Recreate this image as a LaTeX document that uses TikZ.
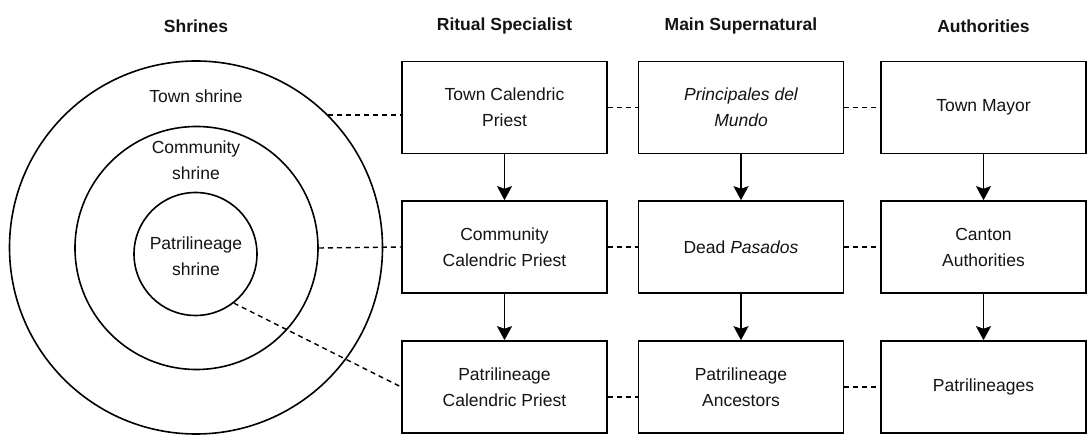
\documentclass[tikz,border=0pt]{standalone}
\usepackage{fontspec}
\setmainfont{Liberation Sans}
\usetikzlibrary{arrows.meta,calc}
\begin{document}
\begin{tikzpicture}[x=1pt,y=-1pt,
  every node/.style={font=\fontsize{17.5}{26}\selectfont, text=black!92},
  hdr/.style={font=\fontsize{17.5}{26}\selectfont\bfseries},
  box/.style={draw, line width=1.6pt, minimum width=205pt, minimum height=92pt, inner sep=0pt, align=center},
  ring/.style={draw, line width=1.6pt, inner sep=0pt, circle},
  lbl/.style={align=center, inner sep=0pt},
  dline/.style={line width=1.4pt, dash pattern=on 5pt off 4pt},
  arr/.style={line width=1.6pt, -{Stealth[length=14pt,width=15pt,inset=2.5pt]}}
]
\useasboundingbox (0,0) rectangle (1089,435);
\fill[white] (0,0) rectangle (1089,435);

% headers
\node[hdr] (h0) at (196,26) {Shrines};
\node[hdr] (h1) at (504.5,26) {Ritual Specialist};
\node[hdr] (h2) at (741,26) {Main Supernatural};
\node[hdr] (h3) at (983.5,26) {Authorities};

% shrines
\node[ring, minimum size=373pt] (town) at (196,247.5) {};
\node[ring, minimum size=243pt] (comm) at (196.5,248) {};
\node[ring, minimum size=123pt] (patr) at (195.5,254) {};
\node[lbl] (townl) at (196,96) {Town shrine};
\node[lbl] (comml) at (196,160) {Community\\shrine};
\node[lbl] (patrl) at (196,256) {Patrilineage\\shrine};

% boxes
\node[box] (r1) at (504.5,107.5) {Town Calendric\\Priest};
\node[box] (r2) at (504.5,247) {Community\\Calendric Priest};
\node[box] (r3) at (504.5,387) {Patrilineage\\Calendric Priest};
\node[box] (s1) at (741,107.5) {\itshape Principales del\\\itshape Mundo};
\node[box] (s2) at (741,247) {Dead \textit{Pasados}};
\node[box] (s3) at (741,387) {Patrilineage\\Ancestors};
\node[box] (a1) at (983.5,107.5) {Town Mayor};
\node[box] (a2) at (983.5,247) {Canton\\Authorities};
\node[box] (a3) at (983.5,387) {Patrilineages};

% arrows
\draw[arr] (r1.south) -- (r2.north);
\draw[arr] (r2.south) -- (r3.north);
\draw[arr] (s1.south) -- (s2.north);
\draw[arr] (s2.south) -- (s3.north);
\draw[arr] (a1.south) -- (a2.north);
\draw[arr] (a2.south) -- (a3.north);

% dashed links
\draw[dline] (town.45) -- (town.45 -| r1.west);
\draw[dline] (comm.east) -- (r2.west);
\draw[dline] (patr.-52) -- (r3.west);
\draw[dline] (r1.east) -- (s1.west);
\draw[dline] (s1.east) -- (a1.west);
\draw[dline] (r2.east) -- (s2.west);
\draw[dline] (s2.east) -- (a2.west);
\draw[dline] ($(r3.east)+(0,10)$) -- ($(s3.west)+(0,10)$);
\draw[dline] (s3.east) -- (a3.west);
\end{tikzpicture}
\end{document}
